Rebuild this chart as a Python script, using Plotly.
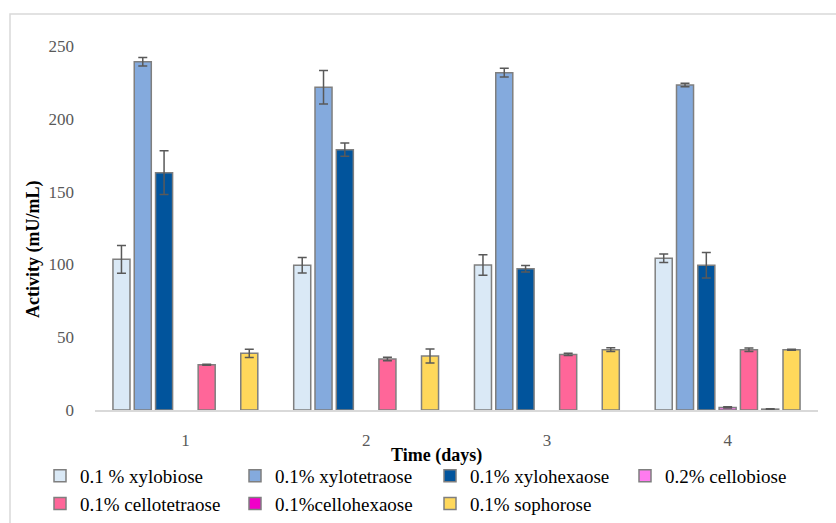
import plotly.graph_objects as go

# Enzyme activity by inducer over four days of culture
days = ["1", "2", "3", "4"]

series_names = [
    "0.1 % xylobiose",
    "0.1% xylotetraose",
    "0.1% xylohexaose",
    "0.2% cellobiose",
    "0.1% cellotetraose",
    "0.1%cellohexaose",
    "0.1% sophorose",
]

xylobiose = [103.5, 99.4, 99.6, 104.2]
xylobiose_err = [9.5, 5.3, 7.0, 2.9]

xylotetraose = [239.2, 221.6, 231.7, 223.2]
xylotetraose_err = [2.9, 11.5, 3.0, 1.2]

xylohexaose = [163.0, 178.8, 97.0, 99.4]
xylohexaose_err = [15.0, 4.5, 2.3, 8.8]

cellobiose = [None, None, None, 1.8]
cellobiose_err = [None, None, None, 0.5]

cellotetraose = [31.1, 35.0, 38.2, 41.4]
cellotetraose_err = [0.4, 1.2, 0.7, 1.2]

cellohexaose = [None, None, None, 0.6]
cellohexaose_err = [None, None, None, 0.3]

sophorose = [38.9, 37.1, 41.4, 41.4]
sophorose_err = [2.9, 4.8, 1.3, 0.3]

values = [xylobiose, xylotetraose, xylohexaose, cellobiose,
          cellotetraose, cellohexaose, sophorose]
errors = [xylobiose_err, xylotetraose_err, xylohexaose_err, cellobiose_err,
          cellotetraose_err, cellohexaose_err, sophorose_err]
colors = ["#DAE9F6", "#84AADD", "#01549C", "#FF7BEF",
          "#FF6699", "#F000C8", "#FFD85B"]

FONT = "Liberation Serif"

fig = go.Figure()
for name, vals, errs, col in zip(series_names, values, errors, colors):
    fig.add_trace(go.Bar(
        name=name,
        x=days,
        y=vals,
        marker=dict(color=col, line=dict(color="#7F7F7F", width=1.5)),
        error_y=dict(type="data", array=errs, visible=True,
                     color="#595959", thickness=1.5, width=4.5),
    ))

# plot area in pixels: x 95..818, y 46..410
L, R, T, B = 95, 18, 46, 113
W, H = 836, 523
pw, ph = W - L - R, H - T - B

def px_x(p):
    return (p - L) / pw

def px_y(p):
    return (H - B - p) / ph

fig.update_layout(
    width=W, height=H,
    margin=dict(l=L, r=R, t=T, b=B, autoexpand=False),
    paper_bgcolor="white",
    plot_bgcolor="white",
    barmode="group",
    bargap=0.175,
    bargroupgap=0.2,
    font=dict(family=FONT, color="#000000", size=18),
    xaxis=dict(
        showgrid=False,
        showline=True, linecolor="#D9D9D9", linewidth=1.5,
        ticks="",
        tickfont=dict(family=FONT, size=17, color="#595959"),
        ticklabelstandoff=14,
    ),
    yaxis=dict(
        range=[0, 250],
        dtick=50,
        showgrid=False,
        showline=False,
        zeroline=False,
        ticks="",
        tickfont=dict(family=FONT, size=17, color="#595959"),
        ticklabelstandoff=20,
    ),
    legend=dict(
        orientation="h",
        x=px_x(40), xanchor="left",
        y=px_y(457), yanchor="top",
        entrywidth=150,
        entrywidthmode="pixels",
        itemwidth=30,
        font=dict(family=FONT, size=19, color="#000000"),
        bgcolor="rgba(0,0,0,0)",
    ),
    annotations=[
        dict(text="<b>Activity (mU/mL)</b>", textangle=-90,
             xref="paper", yref="paper", x=px_x(33), y=px_y(250),
             xanchor="center", yanchor="middle",
             showarrow=False, font=dict(family=FONT, size=18, color="#000000")),
        dict(text="<b>Time (days)</b>",
             xref="paper", yref="paper", x=px_x(436), y=px_y(455),
             xanchor="center", yanchor="middle",
             showarrow=False, font=dict(family=FONT, size=18, color="#000000")),
    ],
    shapes=[
        dict(type="rect", xref="paper", yref="paper",
             x0=px_x(10), x1=px_x(860), y0=px_y(560), y1=px_y(14),
             line=dict(color="#D9D9D9", width=1.5), fillcolor="rgba(0,0,0,0)",
             layer="below"),
    ],
)

fig.write_html("out.html")
